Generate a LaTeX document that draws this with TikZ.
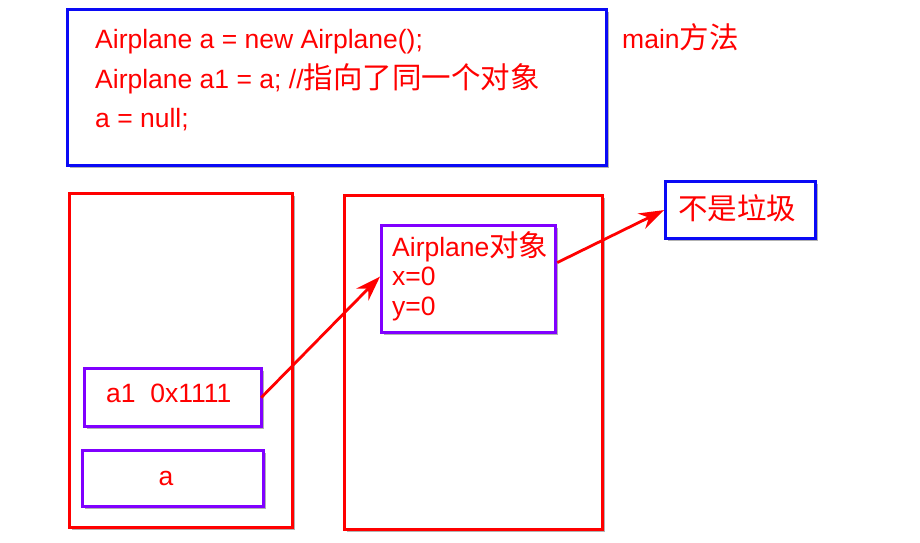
\documentclass[tikz,border=0pt]{standalone}
\usepackage{fontspec}
\setmainfont{Liberation Sans}
\newfontfamily\cjk{Noto Sans CJK SC}
\usetikzlibrary{arrows.meta,shadows}
\definecolor{myred}{RGB}{255,0,0}
\definecolor{myblue}{RGB}{10,10,245}
\definecolor{mypurple}{RGB}{128,0,255}
\newcommand\zh[1]{{\cjk\fontsize{29.5pt}{30pt}\selectfont #1}}
\tikzset{
  box/.style={draw, line width=3.2pt, fill=white, anchor=north west, inner sep=0pt,
    drop shadow={shadow xshift=2pt, shadow yshift=-2pt, opacity=0.3, fill=black}},
  redbox/.style={box, draw=myred},
  bluebox/.style={box, draw=myblue},
  purplebox/.style={box, draw=mypurple},
  txt/.style={text=myred, inner sep=0pt, font=\fontsize{26.5pt}{30pt}\selectfont},
  ptr/.style={draw=myred, line width=2.8pt, -{Stealth[length=25pt,width=17pt]}}
}
\begin{document}
\begin{tikzpicture}[x=1pt,y=-1pt]
\path[fill=white] (0,0) rectangle (920,542);
\useasboundingbox (0,0) rectangle (920,542);
% code box
\node[bluebox, minimum width=539pt, minimum height=156pt] (code) at (66,8) {};
\node[txt, anchor=base west] (code1) at (95,48.5) {Airplane a = new Airplane();};
\node[txt, anchor=base west] (code2) at (95,88) {Airplane a1 = a;\ //\zh{指向了同一个对象}};
\node[txt, anchor=base west] (code3) at (95,127) {a = null;};
\node[txt, anchor=base west] (mainlbl) at (622,48.5) {main\zh{方法}};
% stack and heap
\node[redbox, minimum width=223pt, minimum height=334pt] (stack) at (68,192) {};
\node[redbox, minimum width=258pt, minimum height=334pt] (heap) at (343,194) {};
\node[purplebox, minimum width=177pt, minimum height=58pt] (a1box) at (83,367) {};
\node[txt, anchor=base west] (a1txt) at (106,402) {a1\ \ 0x1111};
\node[purplebox, minimum width=181pt, minimum height=56pt] (abox) at (81,449) {};
\node[txt, anchor=base] (atxt) at (166,485) {a};
\node[purplebox, minimum width=174pt, minimum height=107pt] (obj) at (380,224) {};
\node[txt, anchor=base west] (obj1) at (392,256) {Airplane\zh{对象}};
\node[txt, anchor=base west] (obj2) at (392,285.5) {x=0};
\node[txt, anchor=base west] (obj3) at (392,315) {y=0};
% not garbage
\node[bluebox, minimum width=150pt, minimum height=57pt] (garb) at (664,180) {};
\node[txt, anchor=west] (garbtxt) at (678,208.5) {\zh{不是垃圾}};
% arrows
\draw[ptr] ([xshift=-2pt]a1box.east) -- ([yshift=2.5pt]obj.west);
\draw[ptr] ([yshift=16.5pt]obj.east) -- (garb.west);
\end{tikzpicture}
\end{document}
